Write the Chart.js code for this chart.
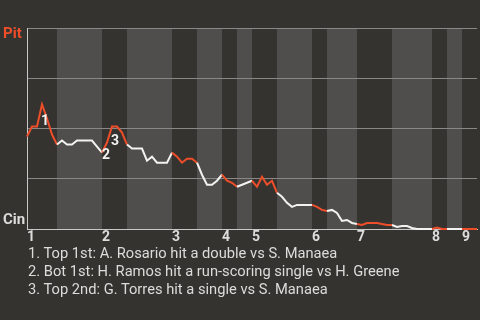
<!DOCTYPE html>
<html>
<head>
<meta charset="utf-8">
<script src="https://cdn.jsdelivr.net/npm/chart.js@4/dist/chart.umd.min.js"></script>
<style>
  html, body { margin: 0; padding: 0; background: #353330; }
  #wrap { position: relative; width: 480px; height: 320px; overflow: hidden; }
  canvas { position: absolute; left: 0; top: 0; }
  #events { position: absolute; left: 28px; top: 244px; font: 14.7px Roboto, sans-serif; color: #dcdcda; line-height: 18px; white-space: nowrap; }
</style>
</head>
<body>
<div id="wrap">
  <canvas id="wp" width="480" height="320"></canvas>
  <div id="events"></div>
</div>
<script>
// Pittsburgh win probability (%) after each plate appearance
const pitWinPct = [
  46, 51, 51, 62, 55, 47, 42,
  44, 42, 42, 44, 44, 44, 44, 41, 38,
  43, 51, 51, 48, 42,
  40, 40, 40, 34, 36, 33, 33, 33, 38,
  36, 33, 35, 35, 33,
  27, 22, 22, 24, 27,
  24, 23, 21,
  22, 23, 24,
  21, 26, 22, 24, 18,
  16, 13, 11, 12, 12, 12, 12,
  11, 9.5, 9,
  9.5, 8, 4, 4.5, 3, 2.5,
  2, 3, 3, 3, 2.5, 2, 2,
  1, 1.5, 1.5, 0.5, 0, 0, 0, 0,
  0.7, 0, 0,
  0, 0, 0,
  0, 0, 0
];

// Plate-appearance index where each half inning begins (top 1st, bot 1st, top 2nd, ...), plus the end
const halfInningStarts = [0, 6, 15, 20, 29, 34, 39, 42, 45, 50, 57, 60, 66, 73, 81, 84, 87, 90];
const inningLabels = ['1', '2', '3', '4', '5', '6', '7', '8', '9'];

// Key plays: marker number, plate-appearance index, description
const keyPlayNumbers = [1, 2, 3];
const keyPlayIndex = [3, 15, 17];
const keyPlayText = [
  'Top 1st: A. Rosario hit a double vs S. Manaea',
  'Bot 1st: H. Ramos hit a run-scoring single vs H. Greene',
  'Top 2nd: G. Torres hit a single vs S. Manaea'
];

const teamTop = 'Pit';
const teamBottom = 'Cin';

const RED = '#ef4e2a';
const WHITE = '#f2f2f0';
const BAND = '#4f4e4c';
const GRID = '#898886';
const AXIS = '#c8c8c6';
const TEXT = '#dcdcda';

Chart.defaults.font.family = 'Roboto, sans-serif';

const points = pitWinPct.map((v, i) => ({ x: i, y: v }));

function isTopHalf(i) {
  for (let h = 0; h < halfInningStarts.length - 1; h += 2) {
    if (i >= halfInningStarts[h] && i < halfInningStarts[h + 1]) return true;
  }
  return false;
}

// Shade the bottom halves of each inning
const bandPlugin = {
  id: 'bands',
  beforeDraw(chart) {
    const { ctx, chartArea: a, scales: { x } } = chart;
    ctx.save();
    ctx.fillStyle = BAND;
    for (let h = 1; h < halfInningStarts.length - 1; h += 2) {
      const x0 = Math.round(x.getPixelForValue(halfInningStarts[h]));
      const x1 = Math.round(x.getPixelForValue(halfInningStarts[h + 1]));
      ctx.fillRect(x0, a.top, x1 - x0, a.bottom - a.top);
    }
    ctx.restore();
  }
};

// Team names and key-play markers
const labelPlugin = {
  id: 'labels',
  afterDatasetsDraw(chart) {
    const { ctx, chartArea: a, scales: { x, y } } = chart;
    ctx.save();
    ctx.font = 'bold 15px Roboto, sans-serif';
    ctx.textBaseline = 'middle';
    ctx.textAlign = 'left';
    ctx.fillStyle = RED;
    ctx.fillText(teamTop, 3, a.top + 6);
    ctx.fillStyle = TEXT;
    ctx.fillText(teamBottom, 3, a.bottom - 9);

    const offsets = [[3, 17], [4, 3], [3, 15]];
    ctx.font = 'bold 14px Roboto, sans-serif';
    ctx.textAlign = 'center';
    ctx.fillStyle = WHITE;
    keyPlayIndex.forEach((idx, k) => {
      const px = x.getPixelForValue(idx) + offsets[k][0];
      const py = y.getPixelForValue(pitWinPct[idx]) + offsets[k][1];
      ctx.fillText(String(keyPlayNumbers[k]), px, py);
    });
    ctx.restore();
  }
};

new Chart(document.getElementById('wp'), {
  type: 'line',
  data: {
    datasets: [{
      data: points,
      borderWidth: 2,
      pointRadius: 0,
      tension: 0,
      clip: false,
      borderColor: WHITE,
      segment: {
        borderColor: c => isTopHalf(c.p0DataIndex) ? RED : WHITE
      }
    }]
  },
  options: {
    responsive: false,
    animation: false,
    devicePixelRatio: 1,
    layout: { padding: { left: 0, top: 28, right: 3, bottom: 75 } },
    plugins: { legend: { display: false }, tooltip: { enabled: false } },
    scales: {
      x: {
        type: 'linear',
        min: 0,
        max: halfInningStarts[halfInningStarts.length - 1],
        grid: { display: false, drawTicks: false },
        border: { display: true, color: AXIS, width: 1 },
        afterBuildTicks: s => {
          s.ticks = halfInningStarts.filter((_, h) => h % 2 === 0 && h < halfInningStarts.length - 1)
            .map(v => ({ value: v }));
        },
        afterFit: s => { s.height = 16; },
        ticks: {
          autoSkip: false,
          maxRotation: 0,
          padding: 0,
          labelOffset: 4,
          color: TEXT,
          font: { size: 14, weight: 'bold' },
          callback: (v, i) => inningLabels[i]
        }
      },
      y: {
        min: 0,
        max: 100,
        grid: { color: GRID, lineWidth: 1, drawTicks: false },
        border: { display: true, color: AXIS, width: 1 },
        afterFit: s => { s.width = 27; },
        ticks: { display: false, stepSize: 25 }
      }
    }
  },
  plugins: [bandPlugin, labelPlugin]
});

document.getElementById('events').innerHTML =
  keyPlayText.map((t, k) => '<div>' + keyPlayNumbers[k] + '. ' + t + '</div>').join('');
</script>
</body>
</html>
